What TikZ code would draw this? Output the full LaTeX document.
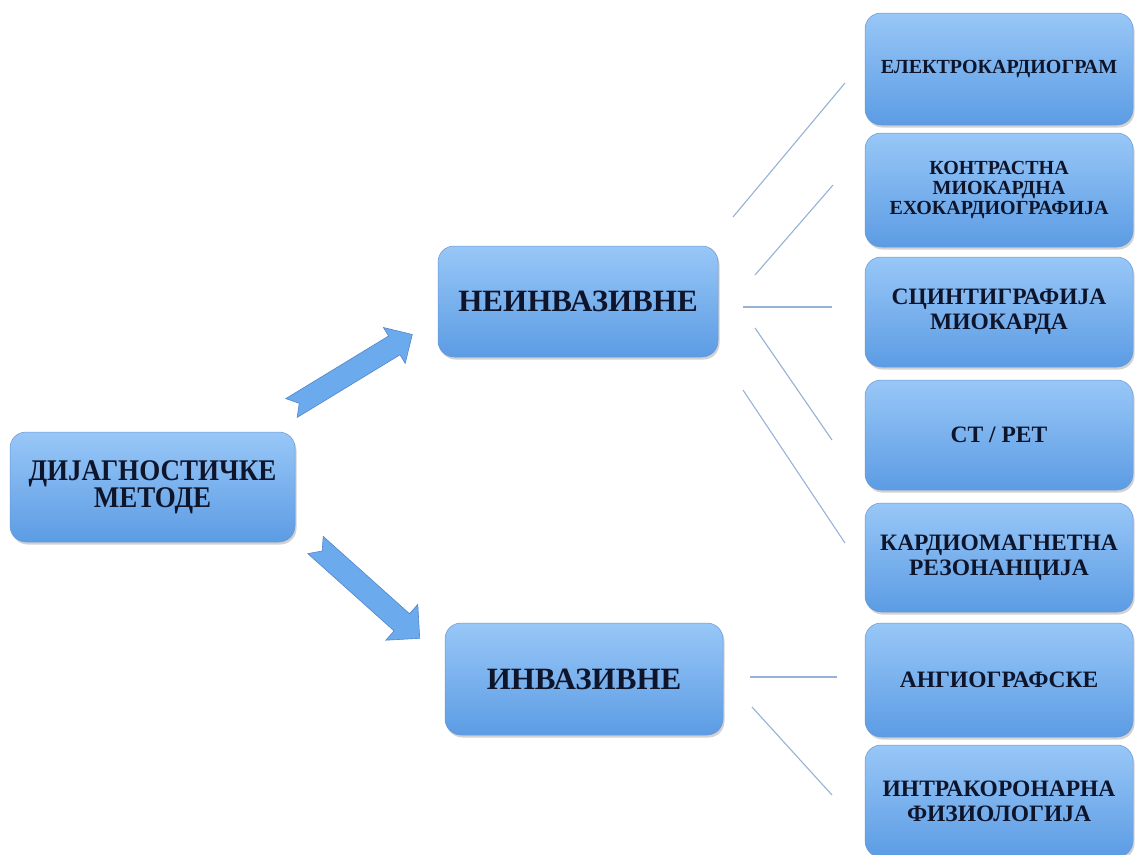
\documentclass[tikz,border=0pt]{standalone}
\usepackage{fontspec}
\setmainfont{Liberation Serif}
\newfontfamily\condfont{Liberation Serif}[FakeStretch=0.9]
\usetikzlibrary{shadows,calc}
\definecolor{boxtop}{RGB}{152,199,247}
\definecolor{boxbot}{RGB}{92,156,228}
\definecolor{boxedge}{RGB}{105,152,212}
\definecolor{txt}{RGB}{14,20,42}
\definecolor{linec}{RGB}{150,178,214}
\definecolor{arrfill}{RGB}{108,170,238}
\definecolor{arredge}{RGB}{82,132,200}
\begin{document}
\begin{tikzpicture}[x=1pt,y=-1pt,
  box/.style={rounded corners=16pt, top color=boxtop, bottom color=boxbot,
    draw=boxedge, line width=0.5pt,
    drop shadow={shadow xshift=1.5pt,shadow yshift=-2.5pt,opacity=0.35},
    inner sep=0pt, align=center, text=txt},
  maintxt/.style={font=\condfont\bfseries\fontsize{30}{26}\selectfont},
  bigtxt/.style={font=\bfseries\fontsize{31}{30}\selectfont},
  midtxt/.style={font=\bfseries\fontsize{23.5}{25}\selectfont},
  smalltxt/.style={font=\bfseries\fontsize{20}{20}\selectfont},
  rbox/.style={box, minimum width=268pt},
  conn/.style={draw=linec, line width=1.1pt},
  blockarrow/.style={fill=arrfill, draw=arredge, line width=0.6pt, line join=miter}
]
\fill[white] (0,0) rectangle (1135,854);
\clip (0,0) rectangle (1135,854);

% main boxes
\node[box, maintxt, minimum width=285pt, minimum height=110pt] (dm) at (152.5,487) {ДИЈАГНОСТИЧКЕ\\МЕТОДЕ};
\node[box, bigtxt, minimum width=280pt, minimum height=111pt] (nein) at (578,301.5) {НЕИНВАЗИВНЕ};
\node[box, bigtxt, minimum width=278pt, minimum height=112pt] (inv) at (584,679) {ИНВАЗИВНЕ};

% right boxes
\node[rbox, smalltxt, minimum height=112pt] (r1) at (999,69) {ЕЛЕКТРОКАРДИОГРАМ};
\node[rbox, smalltxt, minimum height=114pt] (r2) at (999,190) {КОНТРАСТНА\\МИОКАРДНА\\ЕХОКАРДИОГРАФИЈА};
\node[rbox, midtxt, minimum height=110pt] (r3) at (999,312) {СЦИНТИГРАФИЈА\\МИОКАРДА};
\node[rbox, midtxt, minimum height=110pt] (r4) at (999,435) {CT / PET};
\node[rbox, midtxt, minimum height=109pt] (r5) at (999,557.5) {КАРДИОМАГНЕТНА\\РЕЗОНАНЦИЈА};
\node[rbox, midtxt, minimum height=114pt] (r6) at (999,680) {АНГИОГРАФСКЕ};
\node[rbox, midtxt, minimum height=112pt] (r7) at (999,801) {ИНТРАКОРОНАРНА\\ФИЗИОЛОГИЈА};

% connector end points
\coordinate (s1) at (733,217); \coordinate (e1) at (845,83);
\coordinate (s2) at (755,275); \coordinate (e2) at (833,185);
\coordinate (s3) at (743,307); \coordinate (e3) at (832,307);
\coordinate (s4) at (755,328); \coordinate (e4) at (832,440);
\coordinate (s5) at (743,390); \coordinate (e5) at (845,543);
\coordinate (s6) at (750,677); \coordinate (e6) at (837,677);
\coordinate (s7) at (752,707); \coordinate (e7) at (832,795);
\foreach \i in {1,...,7} {\draw[conn] (s\i) -- (e\i);}

% block arrows
\draw[blockarrow] (285.8,398.6) -- (388.6,336.0) -- (383.4,327.5) -- (412.3,334.5)
  -- (405.2,363.3) -- (400.0,354.8) -- (297.2,417.4) -- (299.2,403.3) -- cycle;
\draw[blockarrow] (323.2,536.4) -- (409.5,613.7) -- (417.8,604.4) -- (419.7,638.3)
  -- (385.8,640.2) -- (394.1,630.9) -- (307.8,553.6) -- (322.2,551.0) -- cycle;
\end{tikzpicture}
\end{document}
